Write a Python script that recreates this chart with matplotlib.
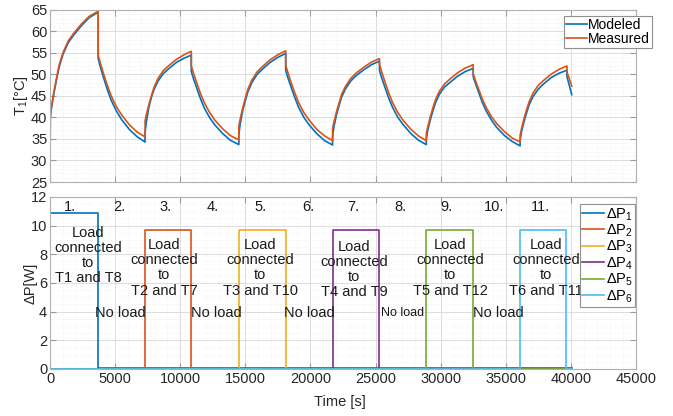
import numpy as np
import matplotlib.pyplot as plt
from matplotlib.ticker import MultipleLocator

plt.rcParams.update({'font.family': 'Liberation Sans', 'font.size': 10,
                     'mathtext.fontset': 'custom', 'mathtext.rm': 'Liberation Sans',
                     'mathtext.it': 'Liberation Sans:italic'})

# temperature of T1, modeled vs measured (one row per heating / cooling period)
t_temp = [0, 30, 100, 300, 500, 700, 1000, 1400, 1800, 2400, 3000, 3700,
          3700, 3850, 4100, 4400, 4700, 5100, 5500, 6100, 6700, 7300,
          7300, 7400, 7600, 7800, 8000, 8300, 8700, 9100, 9700, 10300, 10850,
          10850, 11000, 11250, 11550, 11850, 12250, 12650, 13250, 13850, 14500,
          14500, 14600, 14800, 15000, 15200, 15500, 15900, 16300, 16900, 17500, 18100,
          18100, 18250, 18500, 18800, 19100, 19500, 19900, 20500, 21100, 21700,
          21700, 21800, 22000, 22200, 22400, 22700, 23100, 23500, 24100, 24700, 25300,
          25300, 25450, 25700, 26000, 26300, 26700, 27100, 27700, 28300, 28900,
          28900, 29000, 29200, 29400, 29600, 29900, 30300, 30700, 31300, 31900, 32500,
          32500, 32650, 32900, 33200, 33500, 33900, 34300, 34900, 35500, 36100,
          36100, 36200, 36400, 36600, 36800, 37100, 37500, 37900, 38500, 39100, 39700,
          39700, 40070]

measured = [28.9, 40.1, 42.3, 46.0, 49.2, 52.2, 55.1, 57.8, 59.5, 61.7, 63.5, 64.7,
            54.5, 52.8, 50.3, 47.5, 45.0, 42.5, 40.6, 38.3, 36.6, 35.5,
            39.2, 40.7, 43.1, 45.2, 47.1, 49.1, 50.9, 52.0, 53.5, 54.6, 55.4,
            52.0, 50.5, 48.2, 45.6, 43.4, 41.2, 39.4, 37.4, 35.8, 34.8,
            38.0, 39.6, 42.2, 44.5, 46.6, 48.7, 50.6, 51.8, 53.4, 54.6, 55.5,
            52.2, 50.6, 48.3, 45.7, 43.4, 41.1, 39.4, 37.2, 35.7, 34.6,
            37.4, 38.9, 41.3, 43.4, 45.4, 47.3, 49.1, 50.3, 51.7, 52.9, 53.7,
            52.4, 50.8, 48.5, 45.8, 43.5, 41.2, 39.4, 37.3, 35.7, 34.6,
            36.3, 37.7, 40.1, 42.2, 44.1, 46.1, 47.8, 48.9, 50.4, 51.5, 52.3,
            50.2, 48.8, 46.7, 44.3, 42.3, 40.2, 38.6, 36.7, 35.2, 34.3,
            35.8, 37.3, 39.7, 41.8, 43.7, 45.7, 47.5, 48.6, 50.1, 51.2, 52.0,
            50.6, 47.3]

modeled = [40.0, 40.4, 42.0, 45.6, 48.8, 51.7, 54.7, 57.4, 59.1, 61.3, 63.2, 64.5,
           53.7, 51.9, 49.4, 46.5, 44.0, 41.5, 39.5, 37.2, 35.5, 34.3,
           36.5, 39.0, 42.5, 44.8, 46.6, 48.5, 50.2, 51.3, 52.8, 53.8, 54.5,
           50.7, 49.2, 47.0, 44.4, 42.2, 40.0, 38.3, 36.3, 34.7, 33.7,
           36.0, 38.4, 41.6, 43.9, 46.0, 48.1, 50.0, 51.2, 52.8, 54.0, 54.9,
           51.0, 49.4, 47.2, 44.6, 42.3, 40.0, 38.3, 36.2, 34.6, 33.6,
           35.5, 37.8, 40.6, 42.8, 44.8, 46.7, 48.5, 49.7, 51.1, 52.3, 53.1,
           51.0, 49.4, 47.2, 44.6, 42.4, 40.1, 38.4, 36.3, 34.7, 33.7,
           35.0, 36.9, 39.4, 41.5, 43.4, 45.4, 47.1, 48.1, 49.6, 50.7, 51.4,
           49.5, 48.1, 46.0, 43.5, 41.5, 39.4, 37.7, 35.8, 34.4, 33.4,
           34.7, 36.6, 39.0, 41.1, 43.0, 44.9, 46.6, 47.8, 49.3, 50.3, 51.0,
           49.5, 45.3]

# power loss steps
load_on = [0, 7300, 14500, 21700, 28900, 36100]
load_off = [3700, 10850, 18100, 25300, 32500, 39650]
dp_load = [10.9, 9.7, 9.7, 9.7, 9.7, 9.7]
dp_idle = [0.1, 0, 0, 0, 0, 0]
t_end = 40070

load_labels = ['T1 and T8', 'T2 and T7', 'T3 and T10',
               'T4 and T9', 'T5 and T12', 'T6 and T11']
period_labels = ['1.', '2.', '3.', '4.', '5.', '6.', '7.', '8.', '9.', '10.', '11.']

mat_colors = ['#0072BD', '#D95319', '#EDB120', '#7E2F8E', '#77AC30', '#4DBEEE']

fig = plt.figure(figsize=(6.73, 4.16), dpi=100)
ax1 = fig.add_axes([0.0743, 0.5625, 0.8707, 0.4135])
ax2 = fig.add_axes([0.0743, 0.113, 0.8707, 0.4135])


def style_axes(ax):
    ax.set_xlim(0, 45000)
    ax.xaxis.set_major_locator(MultipleLocator(5000))
    ax.xaxis.set_minor_locator(MultipleLocator(1000))
    ax.grid(which='major', color='#dcdcdc', lw=0.7)
    ax.grid(which='minor', color='#ededed', lw=0.5, ls=':')
    ax.set_axisbelow(True)
    ax.tick_params(which='both', direction='in', top=True, right=True,
                   colors='#9a9a9a', labelcolor='#262626', labelsize=10.5, pad=2)
    ax.tick_params(which='major', length=4)
    ax.tick_params(which='minor', length=0)
    for s in ax.spines.values():
        s.set_color('#b0b0b0')
        s.set_linewidth(0.8)


ax1.plot(t_temp, modeled, color=mat_colors[0], lw=1.2, label='Modeled')
ax1.plot(t_temp, measured, color=mat_colors[1], lw=1.2, label='Measured')
style_axes(ax1)
ax1.set_ylim(25, 65)
ax1.yaxis.set_major_locator(MultipleLocator(5))
ax1.yaxis.set_minor_locator(MultipleLocator(1))
ax1.tick_params(labelbottom=False)
ax1.set_ylabel('T$_1$[°C]', fontsize=10.5, color='#262626')
ax1.yaxis.set_label_coords(-0.034, 0.5)
leg1 = ax1.legend(loc='upper right', bbox_to_anchor=(0.969, 0.9615),
                  bbox_transform=fig.transFigure, fontsize=10,
                  handlelength=1.5, handletextpad=0.1, borderpad=0.15,
                  labelspacing=0.0, borderaxespad=0, fancybox=False,
                  framealpha=1, edgecolor='#909090')
leg1.get_frame().set_linewidth(0.8)

for i in range(6):
    on, off = load_on[i], load_off[i]
    x = [0, on, on, off, off, t_end]
    y = [dp_idle[i], dp_idle[i], dp_load[i], dp_load[i], dp_idle[i], dp_idle[i]]
    ax2.plot(x, y, color=mat_colors[i], lw=1.2,
             label='$\\Delta$P$_{%d}$' % (i + 1))
style_axes(ax2)
ax2.set_ylim(0, 12)
ax2.yaxis.set_major_locator(MultipleLocator(2))
ax2.yaxis.set_minor_locator(MultipleLocator(0.5))
ax2.set_ylabel('ΔP[W]', fontsize=10.5, color='#262626')
ax2.yaxis.set_label_coords(-0.021, 0.5)
ax2.set_xlabel('Time [s]', fontsize=10.5, color='#262626')
ax2.xaxis.set_label_coords(0.495, -0.15)

# annotations for every period
load_x = [2920, 8760, 16130, 23350, 30720, 38100]
load_y = [7.9, 7.05, 7.05, 6.95, 7.05, 7.05]
for lx, ly, lab in zip(load_x, load_y, load_labels):
    ax2.text(lx, ly, 'Load\nconnected\nto\n' + lab, ha='center', va='center',
             fontsize=10.5, linespacing=1.1, color='#1a1a1a')

noload_x = [5380, 12800, 19890, 27060, 34430]
noload_size = [10.5, 10.5, 10.5, 9, 10.5]
for nx, fs in zip(noload_x, noload_size):
    ax2.text(nx, 3.9, 'No load', ha='center', va='center', fontsize=fs, color='#1a1a1a')

period_x = [1540, 5320, 8890, 12470, 16130, 19840, 23300, 26930, 30470, 34100, 37690]
for px, lab in zip(period_x, period_labels):
    ax2.text(px, 11.3, lab, ha='center', va='center', fontsize=10.5, color='#1a1a1a')

leg2 = ax2.legend(loc='upper right', bbox_to_anchor=(0.9435, 0.5096),
                  bbox_transform=fig.transFigure, fontsize=10.5,
                  handlelength=1.5, handletextpad=0.1, borderpad=0.15,
                  labelspacing=0.0, borderaxespad=0, fancybox=False,
                  framealpha=1, edgecolor='#909090')
leg2.get_frame().set_linewidth(0.8)

fig.savefig('out.png', dpi=100, facecolor='white')
